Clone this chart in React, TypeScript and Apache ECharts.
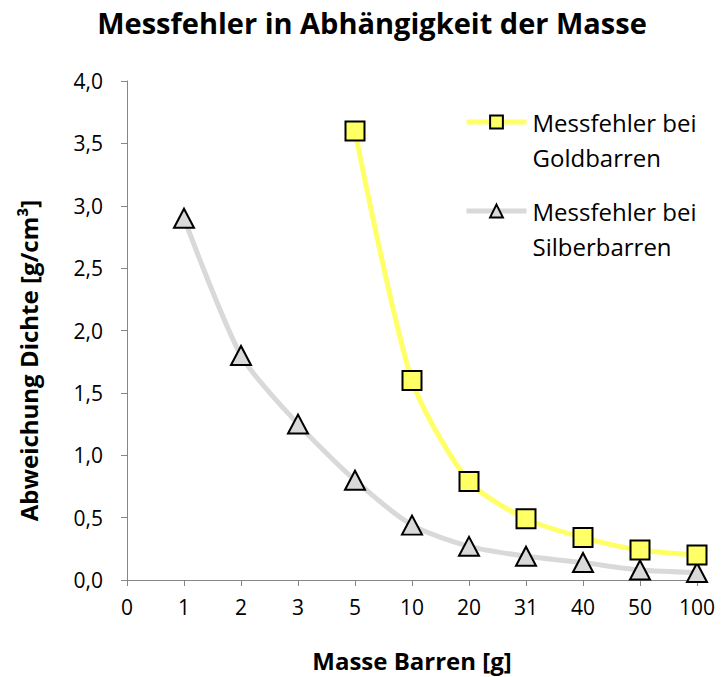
import React, { useEffect, useRef } from "react";
import * as echarts from "echarts";

const categories = ["0", "1", "2", "3", "5", "10", "20", "31", "40", "50", "100"];
const goldValues: (number | string)[] = ["-", "-", "-", "-", 3.6, 1.6, 0.79, 0.49, 0.34, 0.24, 0.2];
const silverValues: (number | string)[] = ["-", 2.9, 1.8, 1.25, 0.8, 0.44, 0.27, 0.19, 0.14, 0.08, 0.06];
const goldName = "Messfehler bei Goldbarren";
const silverName = "Messfehler bei Silberbarren";
const goldLegendText = " \nMessfehler bei\nGoldbarren";
const silverLegendText = " \nMessfehler bei\nSilberbarren";

const FONT = '"Open Sans", sans-serif';

export default function App() {
  const ref = useRef<HTMLDivElement>(null);
  useEffect(() => {
    if (!ref.current) return;
    const chart = echarts.init(ref.current, undefined, { renderer: "svg" });
    const legendText = (name: string) => (name === goldName ? goldLegendText : silverLegendText);
    const legendCommon = {
      orient: "vertical" as const,
      padding: 0,
      itemWidth: 60,
      itemHeight: 16,
      itemGap: 0,
      formatter: legendText,
      lineStyle: { width: 5 },
      textStyle: { fontFamily: FONT, fontSize: 24, color: "#000", lineHeight: 35, padding: [0, 0, 0, 1] },
    };
    chart.setOption({
      animation: false,
      backgroundColor: "#fff",
      title: {
        text: "Messfehler in Abhängigkeit der Masse",
        left: 372,
        textAlign: "center",
        top: 8,
        padding: 0,
        textStyle: { fontFamily: FONT, fontSize: 29, fontWeight: "bold", color: "#000" },
      },
      legend: [
        { ...legendCommon, data: [goldName], left: 464, top: 122 - 52.5 },
        { ...legendCommon, data: [silverName], left: 464, top: 211 - 52.5 },
      ],
      grid: { left: 127, right: 24, top: 81, bottom: 95, containLabel: false },
      xAxis: {
        type: "category",
        data: categories,
        boundaryGap: false,
        name: "Masse Barren [g]",
        nameLocation: "middle",
        nameGap: 68,
        nameTextStyle: { fontFamily: FONT, fontSize: 24, fontWeight: "bold", color: "#000" },
        axisLine: { lineStyle: { color: "#868686", width: 1 } },
        axisTick: { show: true, length: 6, alignWithLabel: true, lineStyle: { color: "#868686" } },
        axisLabel: { fontFamily: FONT, fontSize: 21, color: "#000", margin: 16, interval: 0 },
        splitLine: { show: false },
      },
      yAxis: {
        type: "value",
        min: 0,
        max: 4,
        interval: 0.5,
        name: "Abweichung Dichte [g/cm³]",
        nameLocation: "middle",
        nameGap: 87,
        nameRotate: 90,
        nameTextStyle: {
          fontFamily: FONT,
          fontSize: 24,
          fontWeight: "bold",
          color: "#000",
          padding: [0, 60, 0, 0],
        },
        axisLine: { show: true, lineStyle: { color: "#868686", width: 1 } },
        axisTick: { show: true, length: 6, lineStyle: { color: "#868686" } },
        axisLabel: {
          fontFamily: FONT,
          fontSize: 21,
          color: "#000",
          margin: 24,
          formatter: (v: number) => v.toFixed(1).replace(".", ","),
        },
        splitLine: { show: false },
      },
      series: [
        {
          name: goldName,
          type: "line",
          data: goldValues,
          smooth: 0.25,
          symbol: "rect",
          symbolSize: 19,
          showAllSymbol: true,
          lineStyle: { color: "#FFFF66", width: 5 },
          itemStyle: { color: "#FFFF66", borderColor: "#000", borderWidth: 2 },
          z: 3,
        },
        {
          name: silverName,
          type: "line",
          data: silverValues,
          smooth: 0.25,
          symbol: "triangle",
          symbolSize: [20, 19],
          showAllSymbol: true,
          lineStyle: { color: "#D9D9D9", width: 5 },
          itemStyle: { color: "#D9D9D9", borderColor: "#000", borderWidth: 2 },
          z: 2,
        },
      ],
    });
    return () => chart.dispose();
  }, []);
  return <div ref={ref} style={{ position: "fixed", left: 0, top: 0, width: 721, height: 677 }} />;
}
